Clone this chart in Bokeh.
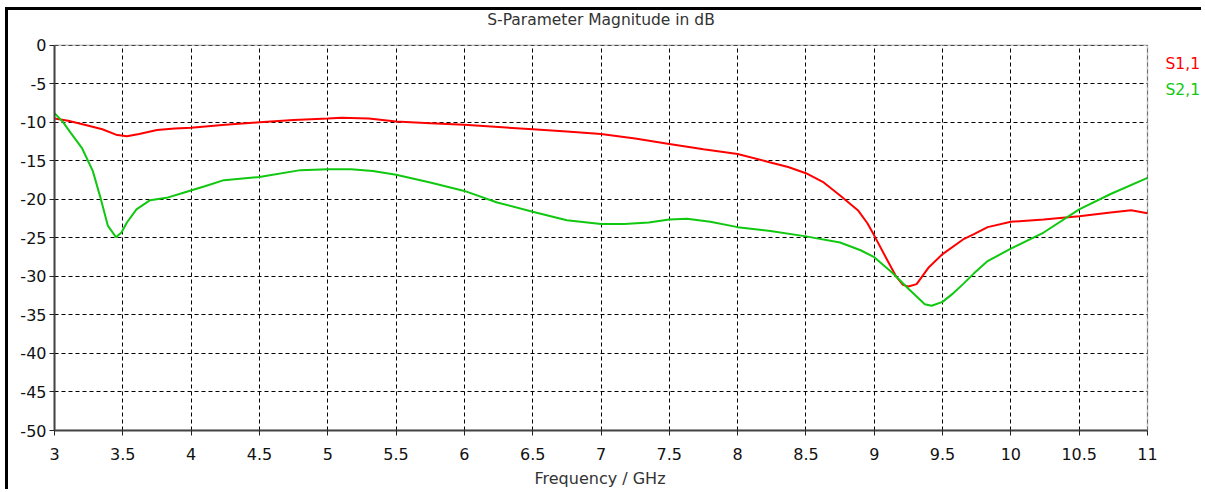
from bokeh.plotting import figure
from bokeh.models import Range1d, FixedTicker, BoxAnnotation, Title
from bokeh.embed import file_html
from bokeh.resources import INLINE
from bokeh.core.properties import value

# ---- data ----
s11_freq = [3.0, 3.1, 3.22, 3.35, 3.45, 3.53, 3.62, 3.75, 3.88, 4.0, 4.25, 4.5, 4.75, 5.0, 5.1,
            5.3, 5.5, 5.75, 6.0, 6.25, 6.5, 6.75, 7.0, 7.25, 7.5, 7.75, 8.0, 8.24, 8.37, 8.5, 8.63,
            8.75, 8.88, 8.95, 9.0, 9.09, 9.16, 9.21, 9.25, 9.31, 9.4, 9.5, 9.65, 9.73, 9.83,
            10.0, 10.24, 10.5, 10.73, 10.88, 11.0]
s11_db = [-9.5, -9.8, -10.3, -10.9, -11.6, -11.8, -11.5, -11.0, -10.8, -10.7, -10.3, -10.0, -9.7, -9.5, -9.4,
          -9.5, -9.9, -10.1, -10.3, -10.6, -10.9, -11.2, -11.5, -12.1, -12.8, -13.5, -14.1, -15.2, -15.8, -16.6, -17.8,
          -19.5, -21.4, -23.1, -24.7, -27.7, -30.0, -31.1, -31.3, -31.0, -28.8, -27.1, -25.2, -24.5, -23.6,
          -22.9, -22.6, -22.2, -21.7, -21.4, -21.8]

s21_freq = [3.0, 3.06, 3.12, 3.2, 3.28, 3.34, 3.39, 3.45, 3.49, 3.53, 3.6, 3.7, 3.82, 3.95, 4.1,
            4.24, 4.5, 4.8, 5.0, 5.17, 5.33, 5.5, 5.75, 6.0, 6.24, 6.5, 6.75, 7.0, 7.17, 7.35,
            7.5, 7.63, 7.8, 8.0, 8.24, 8.5, 8.75, 8.9, 9.0, 9.13, 9.25, 9.37, 9.42, 9.5, 9.57,
            9.65, 9.73, 9.83, 10.0, 10.24, 10.5, 10.73, 11.0]
s21_db = [-8.8, -9.9, -11.4, -13.3, -16.3, -20.0, -23.4, -24.9, -24.3, -23.0, -21.3, -20.1, -19.8, -19.1, -18.3,
          -17.5, -17.1, -16.2, -16.1, -16.1, -16.3, -16.8, -17.8, -18.9, -20.4, -21.6, -22.7, -23.2, -23.2, -23.0,
          -22.6, -22.5, -22.9, -23.6, -24.1, -24.8, -25.6, -26.6, -27.5, -29.5, -31.6, -33.6, -33.8, -33.3, -32.3,
          -31.0, -29.6, -28.0, -26.4, -24.3, -21.3, -19.3, -17.2]

series_names = ["S1,1", "S2,1"]
x_ticks = [3, 3.5, 4, 4.5, 5, 5.5, 6, 6.5, 7, 7.5, 8, 8.5, 9, 9.5, 10, 10.5, 11]
x_tick_labels = ["3", "3.5", "4", "4.5", "5", "5.5", "6", "6.5", "7", "7.5", "8", "8.5", "9", "9.5",
                 "10", "10.5", "11"]
y_ticks = [0, -5, -10, -15, -20, -25, -30, -35, -40, -45, -50]
y_tick_labels = ["0", "-5", "-10", "-15", "-20", "-25", "-30", "-35", "-40", "-45", "-50"]
x_min, x_max = 3, 11
y_min, y_max = -50, 0
title_text = "S-Parameter Magnitude in dB"
x_label = "Frequency / GHz"

# ---- layout / styling ----
FONT = "DejaVu Sans"
RED = "#ff0000"
GREEN = "#10c810"
W, H = 1196, 482
BL, BB = 46, 60
TOP_PAD = 35                       # pixels above the plot box (title area)
PLOT_W, PLOT_H = 1093, 387         # pixel size of the plot box
FRAME_W = W - BL                   # frame runs to the right edge (legend area)
x_end = x_min + (x_max - x_min) * FRAME_W / PLOT_W
y_end = y_max + (y_max - y_min) * TOP_PAD / PLOT_H

p = figure(width=W, height=H, output_backend="svg", toolbar_location=None, title=None,
           x_range=Range1d(x_min, x_end), y_range=Range1d(y_min, y_end),
           min_border_left=BL, min_border_right=0, min_border_top=0, min_border_bottom=BB)
p.background_fill_color = "white"
p.border_fill_color = "white"
p.outline_line_color = None
p.styles = {"margin-left": "5px", "margin-top": "7px",
            "border-left": "3px solid black", "border-top": "3px solid black"}

for ax in (p.xaxis[0], p.yaxis[0]):
    ax.axis_line_color = "#444444"
    ax.axis_line_width = 2
    ax.major_tick_line_color = "#222222"
    ax.major_tick_out = 5
    ax.major_tick_in = 0
    ax.minor_tick_out = 0
    ax.minor_tick_in = 0
    ax.major_label_text_font = FONT
    ax.major_label_text_font_size = "16px"
    ax.major_label_text_color = "#111111"

p.xaxis.bounds = (x_min, x_max)
p.yaxis.bounds = (y_min, y_max)
p.xaxis.ticker = FixedTicker(ticks=x_ticks)
p.yaxis.ticker = FixedTicker(ticks=y_ticks)
p.xaxis.major_label_overrides = {t: l for t, l in zip(x_ticks, x_tick_labels)}
p.yaxis.major_label_overrides = {t: l for t, l in zip(y_ticks, y_tick_labels)}
p.xaxis.major_label_standoff = 12
p.yaxis.major_label_standoff = 3

# x-axis caption, centred under the 3..11 GHz box (left-aligned with an offset)
p.add_layout(Title(text=x_label, align="left", offset=480, standoff=9,
                   text_font=FONT, text_font_size="16px", text_font_style="normal",
                   text_color="#333333"), "below")

p.xgrid.ticker = FixedTicker(ticks=x_ticks)
p.ygrid.ticker = FixedTicker(ticks=y_ticks)
for g in (p.xgrid[0], p.ygrid[0]):
    g.grid_line_color = "black"
    g.grid_line_dash = "4 3"
    g.grid_line_width = 1

# blank strips right of and above the plot box, then the plot box outline
p.add_layout(BoxAnnotation(left=x_max, fill_color="white", fill_alpha=1, line_color=None, level="underlay"))
p.add_layout(BoxAnnotation(bottom=y_max, fill_color="white", fill_alpha=1, line_color=None, level="underlay"))
p.add_layout(BoxAnnotation(left=x_min, right=x_max, bottom=y_min, top=y_max, fill_alpha=0,
                           line_color="#444444", line_width=1.5))

p.line(s11_freq, s11_db, line_color=RED, line_width=2)
p.line(s21_freq, s21_db, line_color=GREEN, line_width=2)

# title
p.text(x=[(x_min + x_max) / 2], y=[y_max], text=[title_text], y_offset=-25,
       text_align="center", text_baseline="middle", text_color="#333333",
       text_font=value(FONT), text_font_size="15.5px")

# legend texts
p.text(x=[x_max], y=[y_max], text=[series_names[0]], x_offset=18, y_offset=19,
       text_align="left", text_baseline="middle", text_color=RED,
       text_font=value(FONT), text_font_size="15.5px")
p.text(x=[x_max], y=[y_max], text=[series_names[1]], x_offset=18, y_offset=45,
       text_align="left", text_baseline="middle", text_color=GREEN,
       text_font=value(FONT), text_font_size="15.5px")

open("out.html", "w").write(file_html(p, INLINE))
